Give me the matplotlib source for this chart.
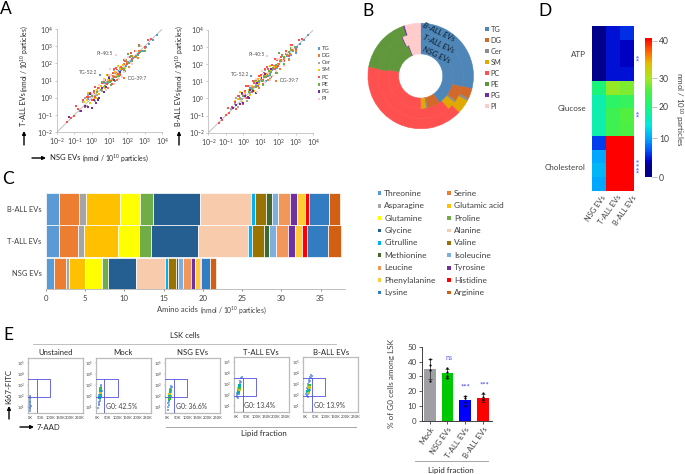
import numpy as np
import matplotlib
matplotlib.use("Agg")
import matplotlib.pyplot as plt
from matplotlib.colors import LinearSegmentedColormap
from matplotlib.patches import Rectangle

plt.rcParams["font.family"] = ["Lato", "DejaVu Sans"]
plt.rcParams["mathtext.default"] = "regular"

W, H = 685, 474
DARK = "#404040"

# A: lipid species, log10 nmol / 10^10 particles
lipids = ["TG", "DG", "Cer", "SM", "PC", "PE", "PG", "PI"]
lipid_colors = ["#5B9BD5", "#ED7D31", "#A5A5A5", "#FFC000", "#FF5050", "#70AD47", "#7030A0", "#FFCCCC"]

tg_nsg = [-0.2, 0.1, 0.4, 0.7, 0.9, 1.0, 1.15, 1.25, 1.4, 1.5, 1.65, 1.8, 1.95, 2.05, 2.2, 2.35, 2.5, 2.7, 2.85, 3.05, 3.25, 3.45, 3.7, 0.44, 0.6, 1.3, 1.85, 2.6, 3.0]
tg_tall = [-0.05, 0.3, 0.55, 0.85, 0.85, 1.05, 1.1, 1.2, 1.35, 1.55, 1.6, 1.7, 1.85, 2.1, 2.15, 2.3, 2.45, 2.6, 2.75, 2.95, 3.15, 3.35, 3.65, 1.35, 0.95, 1.0, 1.55, 2.3, 2.7]
tg_ball = [0.05, 0.25, 0.6, 0.8, 0.9, 1.1, 1.05, 1.25, 1.3, 1.5, 1.65, 1.75, 1.8, 2.0, 2.2, 2.25, 2.5, 2.55, 2.8, 3.0, 3.2, 3.4, 3.7, 1.31, 1.0, 1.0, 1.5, 2.3, 2.65]
dg_nsg = [0.1, 0.5, 0.8, 1.0, 1.2, 1.35, 1.5, 1.6, 1.75, 1.85, 2.0, 2.15, 2.3, 2.5, 2.65, 2.8, 3.0, 1.85, 0.9, 1.4, 2.1, 2.6]
dg_tall = [0.3, 0.7, 0.85, 1.1, 1.25, 1.5, 1.4, 1.75, 1.65, 1.95, 2.1, 2.0, 2.45, 2.4, 2.75, 2.7, 2.9, 1.17, 0.6, 1.05, 1.8, 2.3]
dg_ball = [0.35, 0.65, 0.95, 1.05, 1.3, 1.45, 1.55, 1.65, 1.9, 1.85, 2.0, 2.25, 2.3, 2.55, 2.6, 2.85, 2.75, 1.04, 0.6, 1.1, 1.75, 2.25]
cer_nsg = [-0.7, -0.5, -0.3, -0.1, 0.0, 0.15, 0.3, 0.4, 0.55, 0.7, 0.85, 1.0, 1.15, 1.3, 1.5, -0.2, 0.6, 1.1, -0.4, 0.2, 0.8, 1.25]
cer_tall = [-0.75, -0.25, -0.45, 0.05, -0.1, 0.1, 0.15, 0.55, 0.4, 0.65, 0.95, 0.9, 1.1, 1.45, 1.4, 0.15, 0.45, 1.3, 0.0, -0.2, 0.45, 1.6]
cer_ball = [-0.6, -0.35, -0.5, -0.05, 0.15, 0.05, 0.4, 0.3, 0.5, 0.85, 0.75, 1.1, 1.05, 1.4, 1.6, -0.05, 0.65, 1.0, 0.05, -0.15, 0.4, 1.65]
sm_nsg = [-0.45, -0.3, -0.1, 0.0, 0.1, 0.2, 0.3, 0.4, 0.5, 0.6, 0.75, 0.9, 1.0, 1.15, 1.3, 1.45, 1.6, 1.75, 1.9, 0.25, 0.85, -0.2, 0.35, 0.7, 1.1, 1.5]
sm_tall = [-0.25, -0.1, -0.3, 0.2, -0.05, 0.05, 0.45, 0.25, 0.7, 0.55, 0.6, 1.05, 1.2, 1.05, 1.5, 1.35, 1.7, 1.9, 1.75, 0.0, 1.3, 0.3, -0.05, 1.1, 0.75, 1.85]
sm_ball = [-0.15, -0.05, -0.2, 0.25, 0.3, 0.0, 0.5, 0.2, 0.75, 0.45, 0.95, 0.85, 1.25, 1.1, 1.4, 1.55, 1.65, 1.85, 1.95, 0.1, 1.15, 0.35, 0.0, 1.15, 0.8, 1.9]
pc_nsg = [-1.4, -1.2, -1.0, -0.8, -0.65, -0.5, -0.4, -0.25, -0.1, 0.0, 0.1, 0.2, 0.35, 0.5, 0.6, 0.75, 0.85, 1.0, 1.1, 1.2, 1.3, 1.4, 1.5, 1.65, 1.75, 1.9, 2.0, 2.15, 2.3, 2.45, 2.6, 2.8, 3.0, 3.2, 3.35, 0.15, 0.7, 1.25, -0.9, -0.3, 0.2, 0.55, 0.9, 1.35, 1.8, 2.2, 2.7, 0.35, 1.15, 1.6]
pc_tall = [-1.4, -1.15, -1.05, -0.65, -0.75, -0.15, -0.55, 0.05, 0.3, -0.15, 0.4, 0.05, 0.6, 0.45, 0.85, 1.05, 0.8, 1.25, 1.0, 1.45, 1.2, 1.6, 1.4, 1.8, 1.65, 2.15, 1.95, 2.35, 2.25, 2.7, 2.55, 3.0, 2.95, 3.35, 3.4, 0.65, 1.0, 1.7, -0.5, 0.05, 0.65, 0.95, 1.35, 1.75, 2.2, 2.6, 3.05, -0.05, 0.8, 1.3]
pc_ball = [-1.45, -1.25, -0.95, -0.85, -0.5, -0.2, -0.6, 0.15, 0.25, -0.3, 0.45, 0.0, 0.7, 0.4, 0.9, 1.15, 0.75, 1.35, 1.05, 1.5, 1.25, 1.7, 1.35, 1.95, 1.7, 2.25, 1.9, 2.45, 2.2, 2.8, 2.5, 3.1, 2.9, 3.4, 3.45, 0.7, 1.1, 1.75, -0.55, 0.15, 0.7, 1.0, 1.3, 1.85, 2.3, 2.55, 3.1, 0.0, 0.85, 1.25]
pe_nsg = [0.0, 0.3, 0.5, 0.75, 0.9, 1.05, 1.2, 1.35, 1.45, 1.6, 1.7, 1.85, 1.95, 2.1, 2.2, 2.3, 2.45, 2.6, 2.75, 2.95, 1.55, 2.05, 0.6, 1.1, 1.5, 1.9, 2.3, 2.7]
pe_tall = [0.1, 0.35, 0.45, 0.7, 0.95, 0.95, 1.1, 1.2, 1.55, 1.45, 1.75, 1.7, 2.2, 2.0, 2.45, 2.15, 2.4, 2.5, 2.65, 2.75, 1.25, 2.55, 0.95, 0.75, 1.2, 1.55, 1.95, 3.0]
pe_ball = [0.15, 0.4, 0.55, 0.65, 1.0, 1.0, 1.25, 1.3, 1.6, 1.55, 1.8, 1.95, 2.3, 2.2, 2.5, 2.4, 2.6, 2.7, 2.85, 3.0, 1.4, 2.65, 1.0, 0.8, 1.15, 1.5, 2.0, 2.95]
pg_nsg = [-1.3, -0.6, -0.4, -0.2, 0.0, 0.1, 0.25, 0.4, 0.55, 0.8, 1.0, 1.25, 1.6, -0.1, 0.35, 0.7]
pg_tall = [-1.1, -0.75, -0.5, -0.55, -0.6, -0.1, -0.3, 0.0, 0.6, 0.65, 1.15, 1.05, 1.5, 0.25, -0.1, 0.35]
pg_ball = [-1.15, -0.55, -0.4, -0.3, -0.25, 0.15, 0.1, 0.5, 0.45, 0.9, 1.2, 1.45, 1.75, 0.3, 0.0, 0.3]
pi_nsg = [0.05, 0.4, 0.7, 0.95, 1.1, 1.25, 1.4, 1.55, 1.7, 1.35, 1.85, 2.05, 2.25, 2.5, 2.8, 1.05, 0.8, 1.5, 1.9, 2.3]
pi_tall = [0.2, 0.75, 1.05, 1.3, 1.35, 0.8, 1.55, 1.1, 1.2, 2.47, 1.5, 2.35, 2.05, 2.7, 3.0, 1.7, 0.45, 1.15, 2.25, 1.95]
pi_ball = [0.25, 0.7, 1.15, 1.2, 1.45, 0.95, 1.5, 1.25, 1.3, 2.47, 1.6, 2.3, 2.2, 2.65, 2.95, 1.6, 0.4, 1.1, 2.3, 1.9]

nsg_all = [tg_nsg, dg_nsg, cer_nsg, sm_nsg, pc_nsg, pe_nsg, pg_nsg, pi_nsg]
tall_all = [tg_tall, dg_tall, cer_tall, sm_tall, pc_tall, pe_tall, pg_tall, pi_tall]
ball_all = [tg_ball, dg_ball, cer_ball, sm_ball, pc_ball, pe_ball, pg_ball, pi_ball]
scatter_ticks = [-2, -1, 0, 1, 2, 3, 4]

# B: lipid shares (%), outer to inner ring
donut_ball = [28.9, 3.1, 0.8, 4.3, 40.7, 16.9, 0.4, 4.9]
donut_tall = [29.2, 5.6, 0.8, 3.3, 38.6, 15.3, 0.3, 6.9]
donut_nsg = [40.3, 6.4, 0.8, 2.5, 28.1, 15.8, 0.3, 5.8]
donut_colors = ["#4F86B8", "#D2692A", "#8C8C8C", "#E0A800", "#FF5050", "#60963C", "#7030A0", "#FFCCCC"]

# C: amino acids
amino = ["Threonine", "Serine", "Asparagine", "Glutamic acid", "Glutamine", "Proline", "Glycine", "Alanine",
         "Citrulline", "Valine", "Methionine", "Isoleucine", "Leucine", "Tyrosine", "Phenylalanine", "Histidine",
         "Lysine", "Arginine"]
amino_colors = ["#5B9BD5", "#ED7D31", "#A5A5A5", "#FFC000", "#FFFF00", "#70AD47", "#255E91", "#F8CBAD",
                "#00B0F0", "#997300", "#43682B", "#7CAFDD", "#F1975A", "#7030A0", "#FFCD33", "#FF0000",
                "#327DC2", "#D26012"]
amino_ball = [1.74, 2.55, 0.85, 4.33, 2.59, 1.57, 6.07, 6.41, 0.59, 1.40, 0.68, 0.85, 1.53, 0.85, 0.98, 0.51, 2.55, 1.44]
amino_tall = [1.74, 2.38, 0.81, 4.21, 2.76, 1.49, 5.95, 6.41, 0.51, 1.53, 0.68, 0.85, 1.53, 0.85, 0.93, 0.59, 2.68, 1.74]
amino_nsg = [1.02, 1.61, 0.38, 2.04, 2.17, 0.72, 3.61, 3.61, 0.38, 1.02, 0.34, 0.64, 0.93, 0.55, 0.59, 0.13, 1.15, 0.81]

# D: heatmap, nmol / 10^10 particles
heat_rows = ["ATP", "Glucose", "Cholesterol"]
heat_cols = ["NSG EVs", "T-ALL EVs", "B-ALL EVs"]
heat_nsg = [1.5, 1.5, 1.5, 1.5, 20, 17, 17, 17, 6, 10, 11, 10]
heat_tall = [4.5, 4.5, 4.5, 4.5, 29, 22, 24, 24, 41, 41, 41, 41]
heat_ball = [5.5, 4, 4, 4.5, 28, 23, 26, 25.5, 41, 41, 41, 41]
heat_colors = [(0, "#00008B"), (3 / 41, "#00008B"), (4 / 41, "#0000CD"), (7 / 41, "#0060FF"), (10 / 41, "#00A8FF"),
               (14 / 41, "#00E8E0"), (20 / 41, "#1CF57A"), (26 / 41, "#50F040"), (30 / 41, "#A8E820"),
               (34 / 41, "#E0C000"), (37 / 41, "#FF7000"), (1, "#FF0000")]
bar_ticks = [0, 10, 20, 30, 40]
bar_fracs = [0, 0.281, 0.508, 0.712, 0.981]

# E: flow plots (x in K, log10 y)
unst_x = [1, 1, 2, 1, 2, 2, 1, 3, 2, 1, 2, 1, 2, 1, 2]
unst_y = [0.7, 0.9, 1.0, 1.2, 1.3, 1.45, 1.6, 1.15, 0.85, 1.8, 2.0, 1.05, 1.7, 1.5, 1.9]
mock_x = [2, 4, 5, 7, 8, 9, 10, 11, 12, 13, 14, 15, 16, 17, 18, 20, 8, 12, 16]
mock_y = [0.9, 1.2, 1.5, 1.3, 1.8, 1.6, 2.0, 1.75, 2.25, 1.95, 2.7, 2.35, 3.0, 2.6, 2.9, 2.5, 2.1, 2.55, 2.2]
mock_core_x = [10, 11, 12, 13, 13, 14, 15, 15]
mock_core_y = [1.9, 2.05, 2.2, 2.05, 2.4, 2.3, 2.5, 2.7]
nsg_x = [2, 4, 5, 7, 8, 9, 10, 11, 12, 13, 14, 15, 16, 18, 20, 23, 7, 11, 18]
nsg_y = [1.0, 0.8, 1.4, 1.2, 1.7, 1.5, 1.95, 1.7, 2.2, 1.9, 2.6, 2.3, 2.9, 2.7, 2.4, 2.8, 2.0, 2.5, 2.05]
nsg_core_x = [8, 9, 10, 11, 12, 12, 13, 14]
nsg_core_y = [1.65, 1.8, 1.95, 2.05, 1.9, 2.2, 2.4, 2.55]
tall_x = [5, 6, 7, 8, 9, 10, 12, 13, 14, 15, 16, 18, 20, 21, 22, 24, 26, 28, 11, 17]
tall_y = [2.0, 2.2, 1.85, 2.4, 2.1, 2.6, 2.3, 2.8, 2.1, 2.9, 2.4, 3.1, 2.7, 3.3, 2.5, 3.2, 3.5, 3.6, 1.75, 2.2]
tall_core_x = [10, 12, 13, 14, 15, 16, 17, 18]
tall_core_y = [2.2, 2.4, 2.6, 2.35, 2.7, 2.5, 2.85, 2.65]
ball_x = [5, 6, 8, 9, 10, 12, 13, 14, 15, 16, 18, 19, 20, 22, 23, 25, 27, 30, 33, 11]
ball_y = [2.1, 1.9, 2.4, 2.0, 2.6, 2.2, 2.8, 2.1, 3.0, 2.4, 3.2, 2.7, 3.4, 2.5, 3.3, 3.6, 3.5, 3.8, 3.7, 1.8]
ball_core_x = [11, 13, 14, 15, 16, 17, 18, 19, 20]
ball_core_y = [2.3, 2.5, 2.2, 2.6, 2.45, 2.75, 2.5, 2.9, 2.7]
flow_titles = ["Unstained", "Mock", "NSG EVs", "T-ALL EVs", "B-ALL EVs"]
g0_labels = ["", "G0: 42.5%", "G0: 36.6%", "G0: 13.4%", "G0: 13.9%"]

# E right: % G0 cells
g0_groups = ["Mock", "NSG EVs", "T-ALL EVs", "B-ALL EVs"]
g0_means = [35, 32, 14, 15.5]
g0_sd = [6.5, 3.3, 3, 2.6]
g0_points = [[42, 38, 34, 27], [36, 33, 30, 29], [17, 15.5, 13, 10], [19, 16, 15, 14]]
g0_colors = ["#A0A0A4", "#00C800", "#0000FF", "#FF0000"]


def px_axes(x0, y0, x1, y1, **kw):
    # rectangle in image pixels, y going down
    return fig.add_axes([x0 / W, 1 - y1 / H, (x1 - x0) / W, (y1 - y0) / H], **kw)


fig = plt.figure(figsize=(W / 100, H / 100), dpi=100)
over = fig.add_axes([0, 0, 1, 1], zorder=20)
over.set_xlim(0, W)
over.set_ylim(H, 0)
over.axis("off")
over.patch.set_alpha(0)


def label(x, y, s, size=6, color="#262626", ha="left", va="center", **kw):
    over.text(x, y, s, fontsize=size, color=color, ha=ha, va=va, **kw)


def arrow(x0, y0, x1, y1):
    over.annotate("", xy=(x1, y1), xytext=(x0, y0),
                  arrowprops=dict(arrowstyle="-|>", color="black", lw=1, mutation_scale=5, shrinkA=0, shrinkB=0))


for s, x, y in [("A", 0, 9), ("B", 362, 11), ("C", 2, 179), ("D", 538, 11), ("E", 3, 335)]:
    label(x, y, s, size=12.5, color="black")


# Panel A
def lipid_scatter(box, ys, notes):
    ax = px_axes(*box)
    for xs, vals, col in zip(nsg_all, ys, lipid_colors):
        ax.scatter(np.power(10.0, xs), np.power(10.0, vals), s=3, marker="s", color=col, lw=0, zorder=3)
    ax.plot([1e-2, 1e4], [1e-2, 1e4], color="#BFBFBF", lw=0.7, zorder=1)
    ax.set_xscale("log")
    ax.set_yscale("log")
    ax.set_xlim(1e-2, 1e4)
    ax.set_ylim(1e-2, 1e4)
    ax.set_xticks([10.0 ** t for t in scatter_ticks])
    ax.set_yticks([10.0 ** t for t in scatter_ticks])
    ax.set_xticklabels(["$10^{%d}$" % t for t in scatter_ticks])
    ax.set_yticklabels(["$10^{%d}$" % t for t in scatter_ticks])
    ax.minorticks_off()
    ax.tick_params(labelsize=5, colors=DARK, length=1.5, width=0.4, pad=1.5, color="#A0A0A0")
    for side in ["top", "right"]:
        ax.spines[side].set_visible(False)
    for side in ["left", "bottom"]:
        ax.spines[side].set_color("#BFBFBF")
        ax.spines[side].set_linewidth(0.6)
    for text, x, y, ha in notes:
        ax.text(10.0 ** x, 10.0 ** y, text, fontsize=3.6, color="#595959", ha=ha, va="center")


lipid_scatter((56.7, 29, 162.3, 132.3), tall_all,
              [("PI-40:5", 1.2, 2.58, "right"), ("TG-52:2", 0.3, 1.5, "right"), ("DG-39:7", 2.0, 1.1, "left")])
lipid_scatter((208.3, 30, 313.3, 132.7), ball_all,
              [("PI-40:5", 1.25, 2.55, "right"), ("TG-52:2", 0.35, 1.4, "right"), ("DG-39:7", 2.05, 1.03, "left")])

label(24, 126, "T-ALL EVs", size=5.3, rotation=90, ha="center", va="bottom")
label(24, 91.5, "(nmol / 10$^{10}$ particles)", size=4.9, rotation=90, ha="center", va="bottom")
arrow(24, 145, 24, 131)
label(179, 126, "B-ALL EVs", size=5.3, rotation=90, ha="center", va="bottom")
label(179, 91.5, "(nmol / 10$^{10}$ particles)", size=4.9, rotation=90, ha="center", va="bottom")
arrow(179, 145, 179, 131)
arrow(32, 158, 46, 158)
label(50, 158, "NSG EVs", size=5.5)
label(81.7, 158.5, "(nmol / 10$^{10}$ particles)", size=4.9)
for i, (name, col) in enumerate(zip(lipids, lipid_colors)):
    y = 48.3 + i * 7.2
    over.add_patch(Rectangle((317.8, y - 1.2), 2.4, 2.4, color=col, lw=0))
    label(322, y, name, size=4.2, color="#404040")

# Panel B
ax_b = px_axes(420.7 - 53.3, 76 - 53.3, 420.7 + 53.3, 76 + 53.3)
ring = 31 / 3 / 53.3
for k, vals in enumerate([donut_ball, donut_tall, donut_nsg]):
    wedges, _ = ax_b.pie(vals, colors=donut_colors, radius=1 - k * ring, startangle=90, counterclock=False,
                         wedgeprops=dict(width=ring))
    for w in wedges:
        w.set_edgecolor(w.get_facecolor())
        w.set_linewidth(0.4)
ax_b.set_xlim(-1.01, 1.01)
ax_b.set_ylim(-1.01, 1.01)
for s, y in [("B-ALL EVs", 25), ("T-ALL EVs", 37), ("NSG EVs", 49)]:
    label(423, y, s, size=5.8, color="#10202F", rotation=-25, rotation_mode="anchor", style="italic")
for i, (name, col) in enumerate(zip(lipids, donut_colors)):
    y = 29 + i * 11
    over.add_patch(Rectangle((485.2, y - 1.7), 3.4, 3.4, color=col, lw=0))
    label(490.7, y, name, size=5.3, color="#404040")

# Panel C
ax_c = px_axes(45.7, 193, 345, 289.3)
for vals, pos in zip([amino_nsg, amino_tall, amino_ball], [0, 1, 2]):
    left = 0
    for v, col in zip(vals, amino_colors):
        ax_c.barh(pos, v, left=left, height=0.98, color=col, edgecolor="white", linewidth=0.5)
        left += v
ax_c.set_xlim(0, 38.1)
ax_c.set_ylim(-0.5, 2.5)
ax_c.set_xticks([0, 5, 10, 15, 20, 25, 30, 35])
ax_c.set_yticks([0, 1, 2])
ax_c.set_yticklabels(["NSG EVs", "T-ALL EVs", "B-ALL EVs"])
ax_c.tick_params(labelsize=5.6, colors=DARK, length=1.5, width=0.4, pad=2.5)
ax_c.tick_params(axis="y", length=0, labelsize=5.4, pad=3)
for side in ["top", "right", "left"]:
    ax_c.spines[side].set_visible(False)
ax_c.spines["bottom"].set_color("#A6A6A6")
ax_c.spines["bottom"].set_linewidth(0.5)
label(157, 310, "Amino acids", size=5.5, color=DARK)
label(200, 310.5, "(nmol / 10$^{10}$ particles)", size=4.9, color=DARK)
for i, (name, col) in enumerate(zip(amino, amino_colors)):
    row = i // 2
    y = 193.3 + row * 12.4
    sx, tx = (377.6, 384.3) if i % 2 == 0 else (447.3, 454)
    over.add_patch(Rectangle((sx, y - 1.9), 3.8, 3.8, color=col, lw=0))
    label(tx, y, name, size=6.0, color="#404040")

# Panel D
heat_cmap = LinearSegmentedColormap.from_list("heat", heat_colors)
ax_d = px_axes(592, 25.7, 633.3, 190.7)
heat = np.array([heat_nsg, heat_tall, heat_ball]).T
ax_d.imshow(heat, cmap=heat_cmap, vmin=0, vmax=41, aspect="auto", interpolation="nearest")
ax_d.set_xticks([])
ax_d.set_yticks([])
for side in ax_d.spines.values():
    side.set_visible(False)
for name, y in zip(heat_rows, [54, 108, 167]):
    label(586, y, name, size=5.8, color=DARK, ha="right")
for name, x in zip(heat_cols, [601, 617, 632]):
    label(x, 194, name, size=5.4, color=DARK, ha="right", va="top", rotation=55, rotation_mode="anchor")
for s, y in [("**", 57), ("**", 112.7), ("****", 165)]:
    label(641, y, s, size=6.5, color="#5050FF", ha="center", rotation=90)

ax_cb = px_axes(645, 38.3, 652, 177.3)
levels = np.linspace(0, 41, 83)
edges = np.interp(np.linspace(0, 41, 84), bar_ticks + [41], bar_fracs + [1])
ax_cb.pcolormesh([0, 1], edges, levels[:, None], cmap=heat_cmap, vmin=0, vmax=41)
ax_cb.set_ylim(0, 1)
ax_cb.set_xticks([])
ax_cb.yaxis.tick_right()
ax_cb.set_yticks(bar_fracs)
ax_cb.set_yticklabels([str(t) for t in bar_ticks])
ax_cb.tick_params(labelsize=6.2, colors=DARK, length=3.5, width=0.5, pad=1.5, color="#A6A6A6")
for side in ax_cb.spines.values():
    side.set_visible(False)
label(679, 109, "nmol / 10$^{10}$ particles", size=5.8, color=DARK, ha="center", rotation=270)

# Panel E flow plots
flow_boxes = [(28, 358.3, 82.7, 413.3), (95.7, 358.3, 150.7, 413.3), (165.3, 358.3, 220.3, 413.3),
              (234, 357.3, 288.7, 412.3), (303.3, 357.3, 358.3, 412.3)]
flow_data = [(unst_x, unst_y, [], []), (mock_x, mock_y, mock_core_x, mock_core_y), (nsg_x, nsg_y, nsg_core_x, nsg_core_y),
             (tall_x, tall_y, tall_core_x, tall_core_y), (ball_x, ball_y, ball_core_x, ball_core_y)]
core_cmap = LinearSegmentedColormap.from_list("core", ["#00B0B0", "#30C040", "#D0C020"])
for n, (box, title, data, g0) in enumerate(zip(flow_boxes, flow_titles, flow_data, g0_labels)):
    ax = px_axes(*box)
    ax.scatter(data[0], np.power(10.0, data[1]), s=4, marker="s", color="#5A8CE8", alpha=0.75, lw=0, zorder=2)
    if data[2]:
        ax.scatter(data[2], np.power(10.0, data[3]), s=4, marker="s", c=np.arange(len(data[2])) % 3,
                   cmap=core_cmap, lw=0, zorder=3)
    ax.set_xlim(-10, 263)
    ax.set_yscale("log")
    ax.set_ylim(10 ** 0.46, 10 ** 5.4)
    # gates
    gate_col = "#5050E0"
    ax.plot([-10, 100, 100, -10], [10 ** 3.5, 10 ** 3.5, 10 ** 1.9, 10 ** 1.9], color=gate_col, lw=0.6, zorder=4)
    ax.plot([33, 33], [10 ** 0.46, 10 ** 3.5], color=gate_col, lw=0.6, zorder=4)
    if n >= 2:
        ax.plot([-10, 33], [10 ** 0.48, 10 ** 0.48], color=gate_col, lw=0.8, zorder=4)
    ax.set_xticks([0, 50, 100, 150, 200, 250])
    ax.set_xticklabels(["0K", "50K", "100K", "150K", "200K", "250K"])
    ax.set_yticks([10.0 ** t for t in range(1, 6)])
    ax.set_yticklabels(["$10^{%d}$" % t for t in range(1, 6)])
    ax.minorticks_off()
    ax.tick_params(labelsize=2.9, colors=DARK, length=1, width=0.3, pad=1, color="#A0A0A0")
    for side in ax.spines.values():
        side.set_color("#BBBBBB")
        side.set_linewidth(0.9)
    label((box[0] + box[2]) / 2, 352.7, title, size=5.6, ha="center")
    if g0:
        ax.text(0.19, 0.13, g0, transform=ax.transAxes, fontsize=4.9, color=DARK, va="center")

label(185, 335, "LSK cells", size=5.5, ha="center")
over.plot([33, 336], [343.7, 343.7], color="#BFBFBF", lw=0.7)
over.plot([165.7, 356], [427.3, 427.3], color="#A6A6A6", lw=0.7)
label(264, 433.5, "Lipid fraction", size=5.7, ha="center")
label(9, 386, "Ki67-FITC", size=5.6, ha="center", rotation=90)
arrow(9, 419, 9, 406)
arrow(20, 427, 34, 427)
label(37, 427, "7-AAD", size=5.6)

# Panel E bars
ax_g = px_axes(421.7, 346.7, 491.7, 421)
xpos = np.arange(len(g0_groups))
ax_g.bar(xpos, g0_means, width=0.66, color=g0_colors, lw=0)
ax_g.errorbar(xpos, g0_means, yerr=g0_sd, fmt="none", ecolor="#222222", elinewidth=0.5, capsize=1.6, capthick=0.5, zorder=3)
for x, pts in zip(xpos, g0_points):
    ax_g.scatter([x] * len(pts), pts, s=2.5, color="black", lw=0, zorder=4)
ax_g.set_xlim(-0.458, 3.5)
ax_g.set_ylim(0, 50)
ax_g.set_yticks([0, 10, 20, 30, 40, 50])
ax_g.set_xticks(xpos)
ax_g.set_xticklabels(g0_groups, rotation=55, ha="right", rotation_mode="anchor")
ax_g.tick_params(labelsize=5.7, colors=DARK, length=2, width=0.6, pad=1.5)
for side in ["top", "right"]:
    ax_g.spines[side].set_visible(False)
for side in ["left", "bottom"]:
    ax_g.spines[side].set_color("#404040")
    ax_g.spines[side].set_linewidth(0.7)
label(392, 383, "% of G0 cells among LSK", size=5.9, color=DARK, ha="center", rotation=90)
label(449, 357, "ns", size=5.2, color="#6060FF", ha="center")
label(465, 386.5, "***", size=5.6, color="#3030F0", ha="center")
label(484, 384.5, "***", size=5.6, color="#3030F0", ha="center")
over.plot([415, 488.3], [461.3, 461.3], color="#A6A6A6", lw=0.7)
label(450.7, 470, "Lipid fraction", size=5.7, ha="center")

fig.savefig("out.png", dpi=100)
